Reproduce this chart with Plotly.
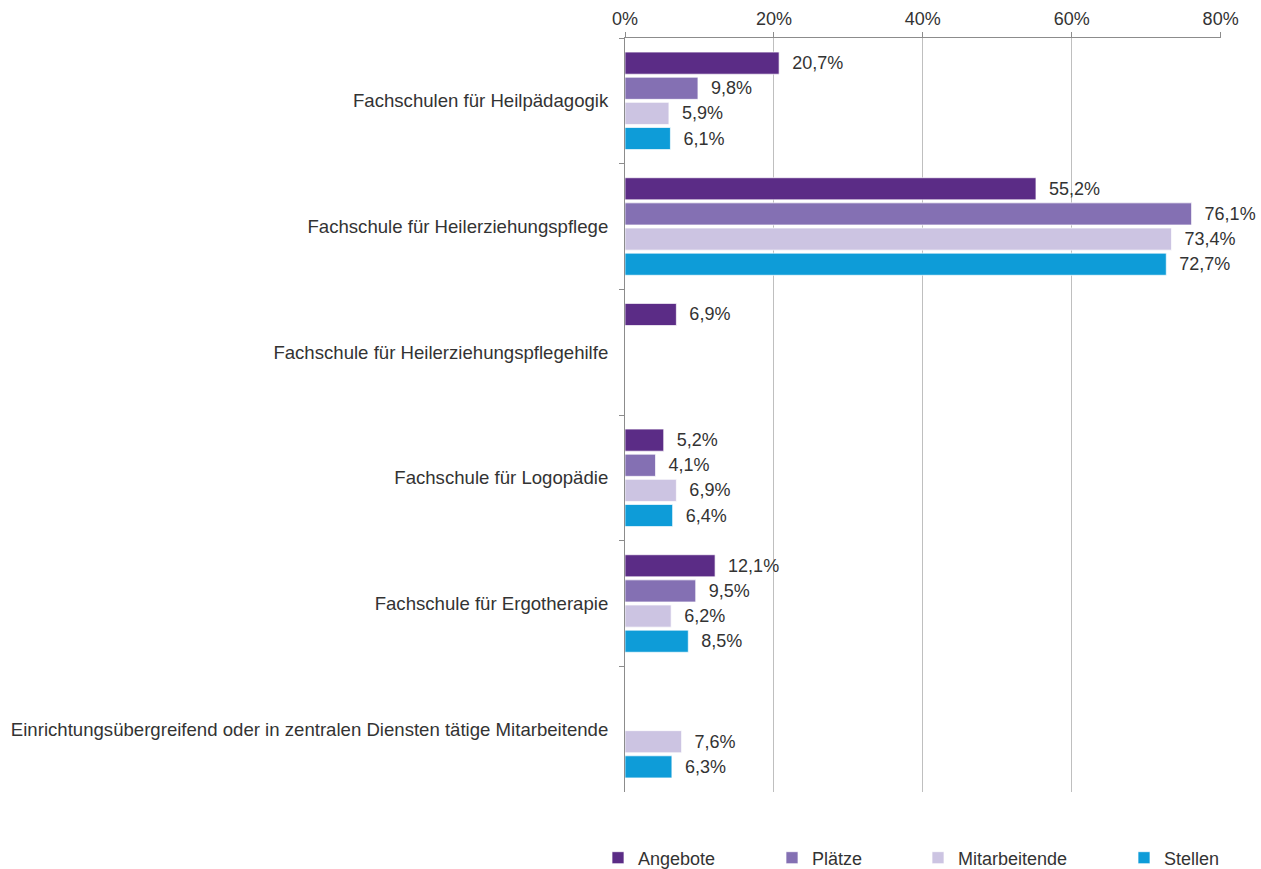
import plotly.graph_objects as go

# Kategorien (von oben nach unten)
kategorien = [
    "Fachschulen für Heilpädagogik",
    "Fachschule für Heilerziehungspflege",
    "Fachschule für Heilerziehungspflegehilfe",
    "Fachschule für Logopädie",
    "Fachschule für Ergotherapie",
    "Einrichtungsübergreifend oder in zentralen Diensten tätige Mitarbeitende",
]

# Anteile in %
angebote = [20.7, 55.2, 6.9, 5.2, 12.1, None]
plaetze = [9.8, 76.1, None, 4.1, 9.5, None]
mitarbeitende = [5.9, 73.4, None, 6.9, 6.2, 7.6]
stellen = [6.1, 72.7, None, 6.4, 8.5, 6.3]

serien = ["Angebote", "Plätze", "Mitarbeitende", "Stellen"]
farben = ["#5B2C86", "#8470B3", "#CCC4E2", "#0E9CD8"]
x_ticks = [0, 20, 40, 60, 80]
x_ticktext = ["0%", "20%", "40%", "60%", "80%"]

W, H = 1261, 869
L, R, T, B = 625, 40, 38, 77
plot_w = W - L - R
plot_h = H - T - B

# Position der Legendeneinträge (Pixel) -> Papierkoordinaten
legend_px = [598, 772, 918, 1124]

fig = go.Figure()
for i, (name, werte) in enumerate(zip(serien, [angebote, plaetze, mitarbeitende, stellen])):
    leg = "legend" if i == 0 else "legend" + str(i + 1)
    fig.add_trace(go.Bar(
        y=kategorien, x=werte, name=name, orientation="h",
        marker=dict(color=farben[i], line=dict(color="rgba(255,255,255,0.7)", width=1)),
        texttemplate="\u00a0\u00a0%{x:.1f}%", textposition="outside",
        textfont=dict(size=18, color="#333333"),
        cliponaxis=False, constraintext="none",
        legend=leg,
    ))

layout_legends = {}
for i in range(len(serien)):
    key = "legend" if i == 0 else "legend" + str(i + 1)
    layout_legends[key] = dict(
        x=(legend_px[i] - L) / plot_w, xanchor="left",
        y=-(858 - (H - B)) / plot_h, yanchor="middle",
        orientation="h", font=dict(size=18, color="#333333"),
        bgcolor="rgba(0,0,0,0)", itemwidth=30,
    )

fig.update_layout(
    width=W, height=H,
    margin=dict(l=L, r=R, t=T, b=B, pad=0, autoexpand=False),
    paper_bgcolor="white", plot_bgcolor="white",
    font=dict(family="Liberation Sans, Arial, sans-serif", size=18, color="#333333"),
    separators=",.",
    barmode="group", bargap=0.2, bargroupgap=0.12,
    showlegend=True,
    **layout_legends,
)

fig.update_xaxes(
    side="top", range=[0, 80.05], tickvals=x_ticks, ticktext=x_ticktext,
    showgrid=True, gridcolor="#BFBFBF", gridwidth=1,
    zeroline=False, showline=True, linecolor="#8C8C8C", linewidth=1,
    ticks="outside", ticklen=5, tickcolor="#8C8C8C",
    tickfont=dict(size=18, color="#333333"),
)
fig.update_yaxes(
    autorange="reversed", showline=True, linecolor="#8C8C8C", linewidth=1,
    ticks="outside", ticklen=5, tickcolor="#8C8C8C", tickson="boundaries",
    showgrid=False, ticklabelstandoff=12,
    tickfont=dict(size=18.6, color="#333333"),
)

# Seitenrand des Browsers entfernen, damit die Grafik bei 0,0 beginnt
fig.write_html("out.html", config={"displayModeBar": False},
               post_script="document.body.style.margin='0';")
